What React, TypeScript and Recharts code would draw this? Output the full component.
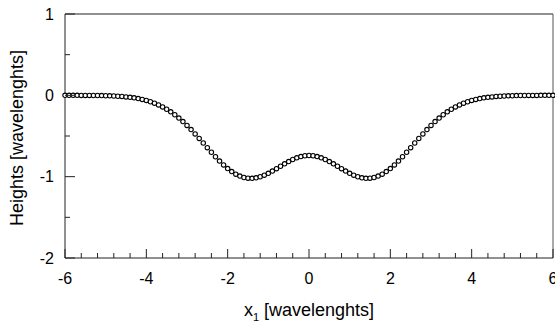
import { ScatterChart, Scatter, XAxis, YAxis, ReferenceLine, Label } from 'recharts'

// sample positions along x1, in wavelengths
const xValues = [
  -6, -5.9, -5.8, -5.7, -5.6, -5.5, -5.4, -5.3, -5.2, -5.1,
  -5, -4.9, -4.8, -4.7, -4.6, -4.5, -4.4, -4.3, -4.2, -4.1,
  -4, -3.9, -3.8, -3.7, -3.6, -3.5, -3.4, -3.3, -3.2, -3.1,
  -3, -2.9, -2.8, -2.7, -2.6, -2.5, -2.4, -2.3, -2.2, -2.1,
  -2, -1.9, -1.8, -1.7, -1.6, -1.5, -1.4, -1.3, -1.2, -1.1,
  -1, -0.9, -0.8, -0.7, -0.6, -0.5, -0.4, -0.3, -0.2, -0.1,
  0, 0.1, 0.2, 0.3, 0.4, 0.5, 0.6, 0.7, 0.8, 0.9,
  1, 1.1, 1.2, 1.3, 1.4, 1.5, 1.6, 1.7, 1.8, 1.9,
  2, 2.1, 2.2, 2.3, 2.4, 2.5, 2.6, 2.7, 2.8, 2.9,
  3, 3.1, 3.2, 3.3, 3.4, 3.5, 3.6, 3.7, 3.8, 3.9,
  4, 4.1, 4.2, 4.3, 4.4, 4.5, 4.6, 4.7, 4.8, 4.9,
  5, 5.1, 5.2, 5.3, 5.4, 5.5, 5.6, 5.7, 5.8, 5.9,
  6,
]

// surface height at each sample
const heights = [
  0, 0, 0, 0, -0.001, -0.001, -0.001, -0.002, -0.002, -0.003,
  -0.005, -0.006, -0.008, -0.011, -0.014, -0.019, -0.024, -0.031, -0.04, -0.05,
  -0.063, -0.079, -0.097, -0.118, -0.142, -0.171, -0.203, -0.239, -0.279, -0.323,
  -0.37, -0.421, -0.474, -0.53, -0.586, -0.644, -0.7, -0.755, -0.808, -0.856,
  -0.9, -0.938, -0.969, -0.993, -1.01, -1.019, -1.02, -1.014, -1.001, -0.982,
  -0.959, -0.931, -0.902, -0.872, -0.842, -0.814, -0.789, -0.768, -0.753, -0.743,
  -0.74, -0.743, -0.753, -0.768, -0.789, -0.814, -0.842, -0.872, -0.902, -0.931,
  -0.959, -0.982, -1.001, -1.014, -1.02, -1.019, -1.01, -0.993, -0.969, -0.938,
  -0.9, -0.856, -0.808, -0.755, -0.7, -0.644, -0.586, -0.53, -0.474, -0.421,
  -0.37, -0.323, -0.279, -0.239, -0.203, -0.171, -0.142, -0.118, -0.097, -0.079,
  -0.063, -0.05, -0.04, -0.031, -0.024, -0.019, -0.014, -0.011, -0.008, -0.006,
  -0.005, -0.003, -0.002, -0.002, -0.001, -0.001, -0.001, 0, 0, 0,
  0,
]

const xTicks = [
  -6, -5.6, -5.2, -4.8, -4.4, -4, -3.6, -3.2, -2.8, -2.4, -2,
  -1.6, -1.2, -0.8, -0.4, 0, 0.4, 0.8, 1.2, 1.6, 2,
  2.4, 2.8, 3.2, 3.6, 4, 4.4, 4.8, 5.2, 5.6, 6,
]
const xLabels = [-6, -4, -2, 0, 2, 4, 6]

const yTicks = [-2, -1.5, -1, -0.5, 0, 0.5, 1]
const yLabels = [-2, -1, 0, 1]

const FONT = '"Liberation Sans", Arial, Helvetica, sans-serif'
const INK = '#222'

const points = xValues.map((x, i) => ({ x, y: heights[i] }))

const isLabel = (list: number[], v: number) => list.some((l) => Math.abs(l - v) < 1e-6)

// ticks point inward; longer where a label sits
function XTick({ x, y, payload }: any) {
  const major = isLabel(xLabels, payload.value)
  return (
    <g>
      <line x1={x} y1={y} x2={x} y2={y - (major ? 9 : 5)} stroke={INK} />
      {major && (
        <text x={x} y={y + 26} textAnchor="middle" fontSize={16} fontFamily={FONT} fill="#000">
          {payload.value}
        </text>
      )}
    </g>
  )
}

function YTick({ x, y, payload }: any) {
  const major = isLabel(yLabels, payload.value)
  return (
    <g>
      <line x1={x} y1={y} x2={x + (major ? 10 : 5)} y2={y} stroke={INK} />
      {major && (
        <text x={x - 11} y={y} dy="0.36em" textAnchor="end" fontSize={16} fontFamily={FONT} fill="#000">
          {payload.value}
        </text>
      )}
    </g>
  )
}

function Dot({ cx, cy }: any) {
  return <circle cx={cx} cy={cy} r={2.2} fill="#fff" stroke="#000" strokeWidth={1.1} />
}

export default function App() {
  return (
    <div style={{ position: 'absolute', left: 0, top: 0, background: '#fff' }}>
      <ScatterChart width={555} height={323} margin={{ top: 14, right: 2, left: 0, bottom: 0 }}>
        <XAxis
          type="number"
          dataKey="x"
          domain={[-6, 6]}
          ticks={xTicks}
          interval={0}
          height={65}
          tickSize={0}
          tickMargin={0}
          tick={<XTick />}
          tickLine={false}
          axisLine={{ stroke: INK }}
        >
          <Label
            content={({ viewBox }: any) => (
              <text
                x={viewBox.x + viewBox.width / 2}
                y={viewBox.y + 58}
                textAnchor="middle"
                fontSize={18}
                fontFamily={FONT}
                fill="#000"
              >
                <tspan>x</tspan>
                <tspan fontSize={11} dy={5}>1</tspan>
                <tspan dy={-5}> [wavelenghts]</tspan>
              </text>
            )}
          />
        </XAxis>
        <YAxis
          type="number"
          dataKey="y"
          domain={[-2, 1]}
          ticks={yTicks}
          interval={0}
          width={65}
          tickSize={0}
          tickMargin={0}
          tick={<YTick />}
          tickLine={false}
          axisLine={{ stroke: INK }}
        >
          <Label
            content={({ viewBox }: any) => {
              const cx = viewBox.x + 17
              const cy = viewBox.y + viewBox.height / 2 + 2
              return (
                <text
                  x={cx}
                  y={cy}
                  dy="0.36em"
                  transform={`rotate(-90, ${cx}, ${cy})`}
                  textAnchor="middle"
                  fontSize={18}
                  fontFamily={FONT}
                  fill="#000"
                >
                  Heights [wavelenghts]
                </text>
              )
            }}
          />
        </YAxis>
        <ReferenceLine y={1} stroke={INK} />
        <ReferenceLine x={6} stroke="#555" />
        <Scatter data={points} shape={<Dot />} isAnimationActive={false} />
      </ScatterChart>
    </div>
  )
}
